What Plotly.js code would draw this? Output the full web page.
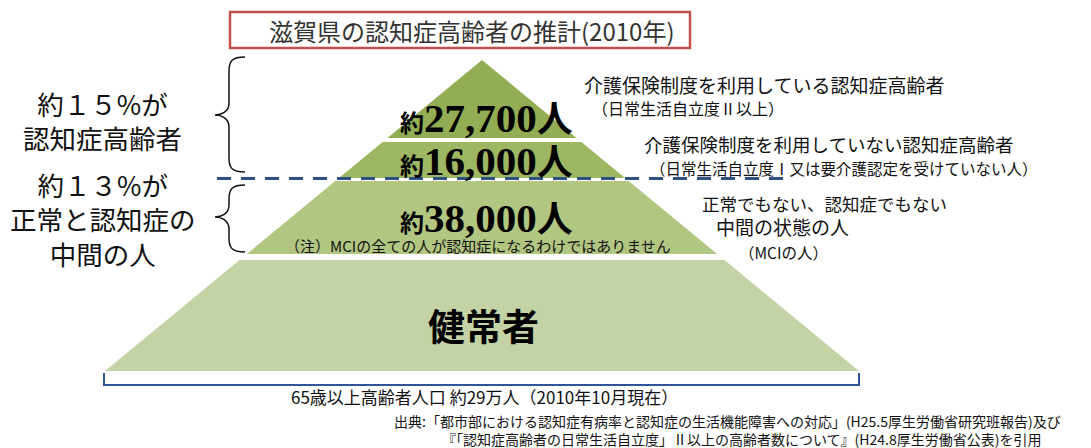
<!DOCTYPE html>
<html>
<head>
<meta charset="utf-8">
<script src="https://cdn.plot.ly/plotly-3.0.1.min.js"></script>
<style>html,body{margin:0;padding:0;background:#fff;}#chart{width:1091px;height:448px;}</style>
</head>
<body>
<div id="chart"></div>
<script>
// ---- data ----
const chartTitle = '滋賀県の認知症高齢者の推計(2010年)';
const tierCounts = [27700, 16000, 38000, null];
const tierCenterLabels = [null, null, null, '健常者'];
const tierDescriptions = [
  ['介護保険制度を利用している認知症高齢者', '（日常生活自立度Ⅱ以上）'],
  ['介護保険制度を利用していない認知症高齢者', '（日常生活自立度Ⅰ又は要介護認定を受けていない人）'],
  ['正常でもない、認知症でもない', '中間の状態の人', '（MCIの人）'],
  []
];
const tierColors = ['#93ad55', '#9db762', '#b0c681', '#c3d3a6'];
const groupLabels = ['約１５%が<br>認知症高齢者', '約１３%が<br>正常と認知症の<br>中間の人'];
const mciNote = '（注）MCIの全ての人が認知症になるわけではありません';
const totalLabel = '65歳以上高齢者人口 約29万人（2010年10月現在）';
const sourceLines = [
  '出典:「都市部における認知症有病率と認知症の生活機能障害への対応」(H25.5厚生労働省研究班報告)及び',
  '『「認知症高齢者の日常生活自立度」Ⅱ以上の高齢者数について』(H24.8厚生労働省公表)を引用'
];

// ---- layout geometry (pixel space) ----
const apexX = 482, apexY = 60, baseY = 371, halfBase = 377;
const tierBounds = [[60, 138], [142, 178], [181, 254], [260, 371]];
const hw = y => halfBase * (y - apexY) / (baseY - apexY);

const JP = '"Noto Sans CJK JP", "Noto Sans", sans-serif';
const SERIF = '"Liberation Serif", "Times New Roman", "Noto Sans CJK JP", serif';

const traces = tierBounds.map((b, i) => {
  const [t, bt] = b;
  const xs = [apexX - hw(t), apexX + hw(t), apexX + hw(bt), apexX - hw(bt), apexX - hw(t)];
  const ys = [t, t, bt, bt, t];
  return {
    type: 'scatter', mode: 'lines', x: xs, y: ys, fill: 'toself',
    fillcolor: tierColors[i], line: {width: 0, color: tierColors[i]},
    hoverinfo: 'skip', showlegend: false
  };
});

const annotations = [];
function ann(x, y, text, size, opts) {
  annotations.push(Object.assign({
    x, y, xref: 'x', yref: 'y', text, showarrow: false,
    font: {family: JP, size, color: '#111'}, xanchor: 'center', yanchor: 'middle'
  }, opts || {}));
}

// title
ann(472, 30, chartTitle, 24, {font: {family: JP, size: 24, color: '#333'}});

// tier count labels
const countY = [116, 159, 216];
tierCounts.forEach((c, i) => {
  if (c == null) return;
  const txt = '<span style="font-family:' + "'Noto Sans CJK JP'" + ';font-size:24px;font-weight:bold">約</span>' +
    '<b>' + c.toLocaleString('en-US') + '</b>' +
    '<span style="font-family:' + "'Noto Sans CJK JP'" + ';font-size:36px;font-weight:bold">人</span>';
  ann(486, countY[i], txt, 41, {font: {family: SERIF, size: 41, color: '#000'}});
});
ann(483, 325, '<b>' + tierCenterLabels[3] + '</b>', 37, {font: {family: JP, size: 37, color: '#000'}});
ann(478, 245, mciNote, 15);

// descriptions
const descPos = [
  [[582, 84, 19], [590, 108, 16]],
  [[642, 144, 18.5], [648, 168, 15.5]],
  [[700, 203, 17.5], [714, 226, 19], [737, 252, 15.5]]
];
tierDescriptions.forEach((lines, i) => {
  lines.forEach((l, j) => {
    const p = descPos[i][j];
    ann(p[0], p[1], l, p[2], {xanchor: 'left'});
  });
});

// group labels
ann(102, 120, groupLabels[0], 26.5, {align: 'center'});
ann(103, 219, groupLabels[1], 26.5, {align: 'center'});

// totals and source
ann(484, 396, totalLabel, 17);
ann(392, 421, sourceLines[0], 14, {xanchor: 'left'});
ann(440, 439, sourceLines[1], 14, {xanchor: 'left'});

function brace(x0, xt, y0, ym, y1) {
  const xv = xt + 14;
  return 'M' + x0 + ',' + y0 + ' C' + (xv + 3) + ',' + y0 + ' ' + xv + ',' + (y0 + 4) + ' ' + xv + ',' + (y0 + 14) +
    ' L' + xv + ',' + (ym - 12) + ' C' + xv + ',' + (ym - 3) + ' ' + (xt + 6) + ',' + ym + ' ' + xt + ',' + ym +
    ' C' + (xt + 6) + ',' + ym + ' ' + xv + ',' + (ym + 3) + ' ' + xv + ',' + (ym + 12) +
    ' L' + xv + ',' + (y1 - 14) + ' C' + xv + ',' + (y1 - 4) + ' ' + (xv + 3) + ',' + y1 + ' ' + x0 + ',' + y1;
}

const shapes = [
  {type: 'rect', xref: 'x', yref: 'y', x0: 230, x1: 690, y0: 12, y1: 48,
   line: {color: '#c0504d', width: 2.5}, fillcolor: 'rgba(0,0,0,0)'},
  {type: 'path', xref: 'x', yref: 'y', path: brace(245, 215, 57, 115, 172), line: {color: '#111', width: 1.5}},
  {type: 'path', xref: 'x', yref: 'y', path: brace(245, 215, 185, 217, 252), line: {color: '#111', width: 1.5}},
  {type: 'line', xref: 'x', yref: 'y', x0: 217, x1: 783, y0: 178.5, y1: 178.5,
   line: {color: '#2c5287', width: 3, dash: '14px,10px'}},
  {type: 'path', xref: 'x', yref: 'y', path: 'M104,373 L104,385 L859,385 L859,373',
   line: {color: '#2f5597', width: 2}}
];

const layout = {
  width: 1091, height: 448, margin: {l: 0, r: 0, t: 0, b: 0},
  paper_bgcolor: '#fff', plot_bgcolor: '#fff',
  xaxis: {range: [0, 1091], visible: false, fixedrange: true},
  yaxis: {range: [448, 0], visible: false, fixedrange: true},
  showlegend: false, annotations, shapes
};
Plotly.newPlot('chart', traces, layout, {displayModeBar: false, staticPlot: true});
</script>
</body>
</html>
